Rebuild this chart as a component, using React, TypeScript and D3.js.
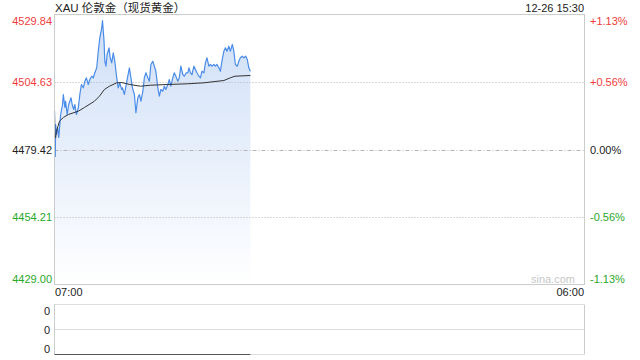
import React from "react";
import * as d3 from "d3";

// minutes after 07:00
const priceMinutes = [0,1,2,3,5,8,11,16,21,23,27,29,33,37,43,46,50,53,57,62,66,70,75,79,83,88,92,97,101,105,110,114,118,123,125,129,131,134,137,142,145,149,153,157,162,166,170,175,177,182,186,190,195,199,203,208,212,217,221,225,230,234,238,243,247,251,256,260,264,269,273,277,282,286,290,295,299,303,308,312,316,321,325,329,334,338,343,347,350,354,358,363,367,371,376,380,384,389,393,397,402,406,410,415,419,423,428,432,436,441,445,449,454,458,463,467,471,476,480,484,489,493,498,502,506,510];
const priceValues = [4494.0,4479.05,4476.81,4488.76,4485.02,4487.64,4483.9,4492.49,4496.23,4499.96,4495.11,4497.46,4492.49,4496.23,4498.73,4496.23,4494.36,4496.23,4492.49,4494.99,4499.96,4503.7,4502.46,4504.93,4506.2,4503.7,4505.56,4506.8,4506.2,4508.07,4509.93,4516.13,4521.14,4524.87,4527.6,4519.87,4512.4,4510.53,4514.9,4517.4,4513.67,4511.8,4515.53,4512.4,4506.2,4502.46,4504.33,4501.83,4502.46,4499.96,4503.06,4506.2,4509.93,4506.2,4502.46,4499.96,4493.13,4498.73,4499.96,4497.46,4501.19,4506.2,4508.07,4506.2,4504.93,4511.17,4512.4,4510.53,4508.66,4502.46,4499.33,4501.83,4501.19,4503.06,4501.83,4503.7,4505.56,4503.06,4506.2,4508.07,4506.8,4504.93,4506.2,4510.53,4507.43,4506.8,4508.07,4508.07,4509.93,4508.07,4507.43,4510.53,4509.3,4508.07,4506.8,4506.2,4508.66,4508.07,4511.8,4513.67,4510.53,4511.17,4510.53,4511.17,4510.53,4511.17,4509.93,4508.66,4512.4,4516.13,4517.4,4516.13,4518.0,4516.13,4518.64,4516.13,4511.17,4510.53,4512.4,4513.67,4514.27,4513.67,4514.27,4513.03,4509.93,4508.66];

const avgMinutes = [0,1,3,5,13,23,36,62,78,104,117,130,143,162,175,196,224,250,295,347,389,441,458,470,510];
const avgValues = [4494.0,4484.5,4483.9,4486.14,4489.99,4491.37,4492.49,4493.72,4495.11,4497.46,4499.33,4501.83,4503.06,4504.33,4504.44,4503.7,4503.06,4503.43,4503.7,4503.96,4504.33,4505.19,4506.2,4506.8,4507.06];

const leftTicks = [4529.84, 4504.63, 4479.42, 4454.21, 4429.0];
const rightTicks = ["+1.13%", "+0.56%", "0.00%", "-0.56%", "-1.13%"];
const volumeTicks = ["0", "0", "0"];
const volumeValues = [0, 0];
const volumeMinutes = [0, 510];
const xLabels = ["07:00", "06:00"];
const title = "XAU 伦敦金（现货黄金）";
const stamp = "12-26 15:30";
const prevClose = 4479.42;

const RED = "#f03c3c";
const GREEN = "#2aa82a";
const FONT = "Liberation Sans, Arial, sans-serif";

export default function App() {
  const L = 54.5, R = 584.5, T = 14.5, B = 284.5;
  const x = d3.scaleLinear().domain([0, 1380]).range([L, R]);
  const y = d3.scaleLinear().domain([4429, 4529.84]).range([B, T]);
  const vT = 304.5, vB = 354.5;
  const vy = d3.scaleLinear().domain([0, 1]).range([vB, vT]);

  const pts = priceMinutes.map((m, i) => [m, priceValues[i]] as [number, number]);
  const line = d3.line<[number, number]>().x(d => x(d[0])).y(d => y(d[1]));
  const area = d3.area<[number, number]>().x(d => x(d[0])).y0(B).y1(d => y(d[1]));
  const avgPts = avgMinutes.map((m, i) => [m, avgValues[i]] as [number, number]);
  const volLine = d3.line<[number, number]>().x(d => x(d[0])).y(d => vy(d[1]));
  const volPts = volumeMinutes.map((m, i) => [m, volumeValues[i]] as [number, number]);

  const colorFor = (v: number) => (v > prevClose ? RED : v < prevClose ? GREEN : "#222");
  const labelY = (i: number, n: number, yy: number) => (i === 0 ? yy + 6 : i === n - 1 ? yy - 6 : yy);

  return (
    <svg width={640} height={360} style={{ position: "absolute", left: 0, top: 0, background: "#fff" }} fontFamily={FONT}>
      <defs>
        <linearGradient id="fillg" x1="0" y1="0" x2="0" y2="1" gradientUnits="objectBoundingBox">
          <stop offset="0" stopColor="#cfdff7" />
          <stop offset="1" stopColor="#ffffff" />
        </linearGradient>
      </defs>
      <text x={55} y={7.5} fontSize={11.5} dominantBaseline="central" fill="#222" fontFamily="Liberation Sans, 'Noto Sans CJK SC', sans-serif">{title}</text>
      <text x={584} y={7.5} fontSize={11} dominantBaseline="central" textAnchor="end" fill="#222">{stamp}</text>

      <path d={area(pts) || ""} fill="url(#fillg)" />

      {leftTicks.map((v, i) => {
        const yy = Math.round(y(v)) + 0.5;
        if (i === 0 || i === leftTicks.length - 1) return null;
        return (
          <line key={"g" + i} x1={L} x2={R} y1={yy} y2={yy}
            stroke="#b5b5b5" strokeDasharray={v === prevClose ? "4,2,1,2" : "1,2"} />
        );
      })}

      <path d={line(pts) || ""} fill="none" stroke="#4a8ce8" strokeWidth={1.2} strokeLinejoin="round" />
      <path d={line(avgPts) || ""} fill="none" stroke="#333" strokeWidth={1} />

      <rect x={L} y={T} width={R - L} height={B - T} fill="none" stroke="#cccccc" />

      {leftTicks.map((v, i) => (
        <text key={"l" + i} x={52} y={labelY(i, leftTicks.length, y(v))} fontSize={11} textAnchor="end"
          dominantBaseline="central" fill={colorFor(v)}>{v.toFixed(2)}</text>
      ))}
      {rightTicks.map((t, i) => (
        <text key={"r" + i} x={590} y={labelY(i, rightTicks.length, y(leftTicks[i]))} fontSize={11}
          dominantBaseline="central" fill={colorFor(leftTicks[i])}>{t}</text>
      ))}

      <text x={575} y={279} fontSize={11} textAnchor="end" dominantBaseline="central" fill="#c8c8c8">sina.com</text>

      <text x={55} y={292} fontSize={11} dominantBaseline="central" fill="#222">{xLabels[0]}</text>
      <text x={584} y={292} fontSize={11} textAnchor="end" dominantBaseline="central" fill="#222">{xLabels[1]}</text>

      {/* volume panel */}
      <line x1={L} x2={R} y1={vT} y2={vT} stroke="#bbb" strokeDasharray="1,1" />
      <line x1={L} x2={R} y1={(vT + vB) / 2} y2={(vT + vB) / 2} stroke="#bbb" strokeDasharray="1,1" />
      <line x1={L} x2={R} y1={vB} y2={vB} stroke="#bbb" strokeDasharray="1,1" />
      <line x1={L} x2={L} y1={vT} y2={vB} stroke="#cccccc" />
      <line x1={R} x2={R} y1={vT} y2={vB} stroke="#cccccc" />
      <path d={volLine(volPts) || ""} stroke="#555" strokeWidth={1} fill="none" />
      {volumeTicks.map((t, i) => {
        const yy = vT + (i * (vB - vT)) / 2;
        return (
          <text key={"v" + i} x={50} y={labelY(i, volumeTicks.length, yy)} fontSize={11} textAnchor="end"
            dominantBaseline="central" fill="#222">{t}</text>
        );
      })}
    </svg>
  );
}
